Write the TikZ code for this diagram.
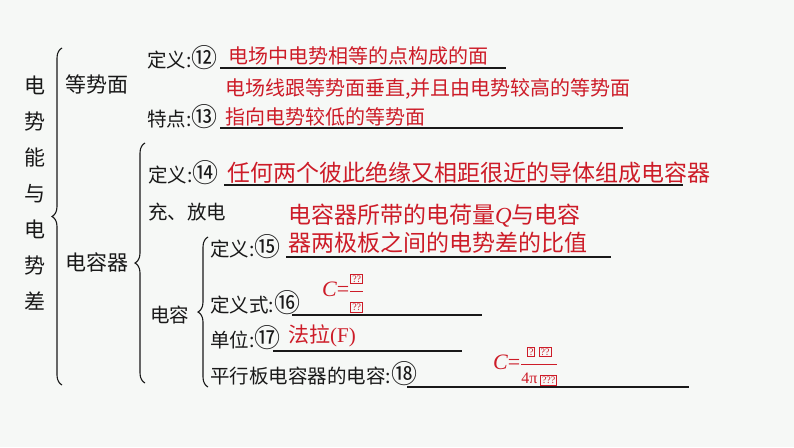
\documentclass[tikz,border=0pt]{standalone}
\usepackage{fontspec}
\setmainfont{Liberation Serif}
\newfontfamily\cjk{Noto Sans CJK SC}
\usepackage{tikz}
\usetikzlibrary{decorations.pathreplacing}
\definecolor{ansred}{RGB}{205,28,40}
\definecolor{paper}{RGB}{246,248,246}
\newcommand{\gbox}[1]{{\setlength{\fboxsep}{1pt}\setlength{\fboxrule}{0.8pt}\fbox{\rmfamily\fontsize{10}{10}\selectfont #1}}}
\newcommand{\cnum}[1]{{\fontsize{26}{22}\selectfont #1}}
\begin{document}
\begin{tikzpicture}[x=1pt,y=-1pt,
  lab/.style={font=\cjk\fontsize{19.5}{22}\selectfont,text=black!90,inner sep=0pt,anchor=west},
  big/.style={font=\cjk\fontsize{21}{36}\selectfont,text=black!90,inner sep=0pt,align=center},
  ans/.style={font=\cjk\fontsize{20}{29}\selectfont,text=ansred,inner sep=0pt,anchor=west,align=left},
  ansbig/.style={ans,font=\cjk\fontsize{23}{28}\selectfont},
  blank/.style={line width=1.5pt,black!90},
  curly/.style={decorate,decoration={brace,amplitude=10pt},line width=1.1pt,black!90},
]
  \fill[paper] (0,0) rectangle (794,447);
  \node[big] (head) at (35,193) {电\\势\\能\\与\\电\\势\\差};
  \draw[curly] (62,385) -- (62,48);
  \node[lab,font=\cjk\fontsize{21}{22}\selectfont] (dsm) at (65,84) {等势面};
  \node[lab,font=\cjk\fontsize{21}{22}\selectfont] (drq) at (65,262) {电容器};
  \node[lab] (dy12) at (147,58) {定义:\cnum{⑫}};
  \node[lab] (td13) at (147,117) {特点:\cnum{⑬}};
  \draw[blank] (220,68) -- (506,68);
  \draw[blank] (220,128) -- (623,128);
  \node[ans] (a12) at (228,56) {电场中电势相等的点构成的面};
  \node[ans] (a13) at (225,102.5) {电场线跟等势面垂直,并且由电势较高的等势面\\指向电势较低的等势面};
  \draw[curly] (145,383) -- (145,143);
  \node[lab] (dy14) at (148,173) {定义:\cnum{⑭}};
  \node[lab] (cfd) at (148,212) {充、放电};
  \node[lab] (dr) at (150,315) {电容};
  \draw[blank] (224,185) -- (683,185);
  \node[ansbig] (a14) at (227,173) {任何两个彼此绝缘又相距很近的导体组成电容器};
  \node[ansbig] (a15) at (288,229) {电容器所带的电荷量{\rmfamily\itshape Q}与电容\\器两极板之间的电势差的比值};
  \draw[curly] (208,387) -- (208,237);
  \node[lab] (dy15) at (210,247) {定义:\cnum{⑮}};
  \node[lab] (dys16) at (210,303) {定义式:\cnum{⑯}};
  \node[lab] (dw17) at (210,338) {单位:\cnum{⑰}};
  \node[lab] (px18) at (210,374) {平行板电容器的电容:\cnum{⑱}};
  \draw[blank] (286,257) -- (611,257);
  \draw[blank] (292,315) -- (482,315);
  \draw[blank] (273,351) -- (462,351);
  \draw[blank] (407,387) -- (689,387);
  \node[ans,font=\rmfamily\fontsize{22}{24}\selectfont] (f16) at (322,293)
    {\itshape C\upshape=$\displaystyle\frac{\mbox{\gbox{??}}}{\mbox{\gbox{??}}}$};
  \node[ans,font=\cjk\fontsize{21}{24}\selectfont] (a17) at (288,336) {法拉{\rmfamily(F)}};
  \node[ans,font=\rmfamily\fontsize{22}{24}\selectfont] (f18) at (493,366)
    {\itshape C\upshape=$\displaystyle\frac{\mbox{\gbox{?}\,\gbox{??}}}{\mbox{\fontsize{16}{16}\selectfont 4π\,\gbox{???}}}$};
\end{tikzpicture}
\end{document}
